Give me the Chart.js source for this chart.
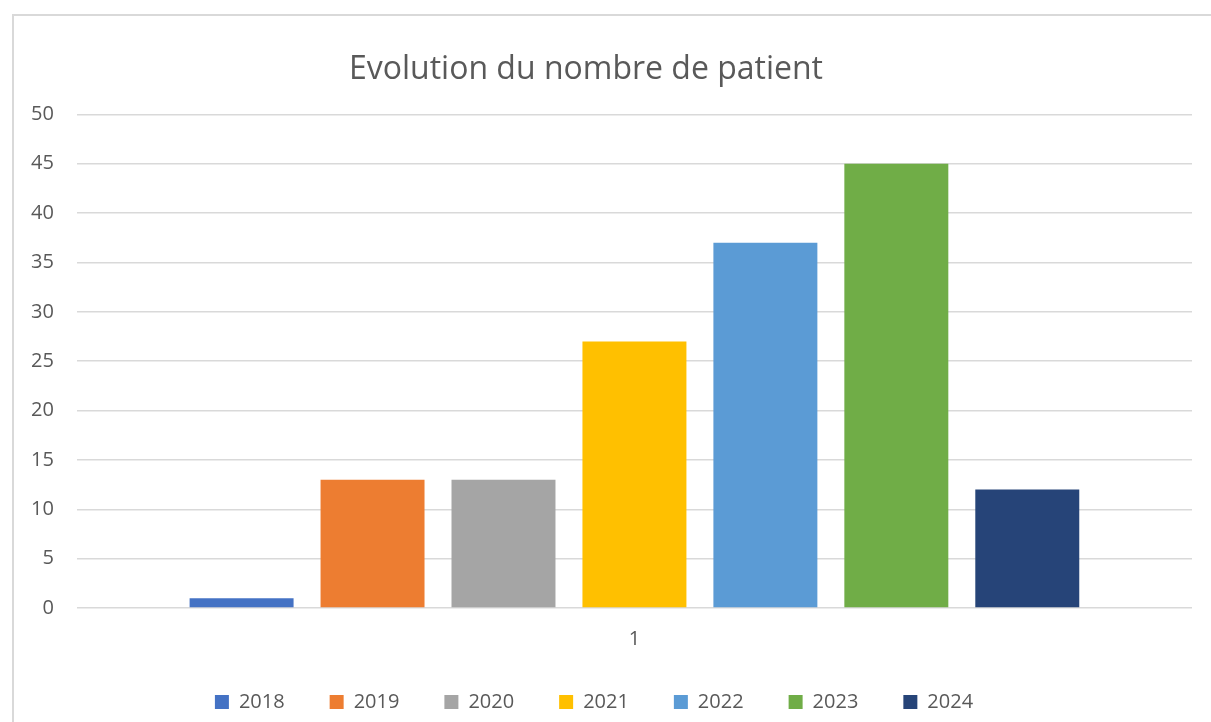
<!DOCTYPE html>
<html>
<head>
<meta charset="utf-8">
<script src="https://cdn.jsdelivr.net/npm/chart.js@4/dist/chart.umd.min.js"></script>
<style>
  html, body { margin: 0; padding: 0; background: #ffffff; overflow: hidden; }
  #frame { position: absolute; left: 12px; top: 14px; width: 1300px; height: 800px; border: 2px solid #d9d9d9; box-sizing: border-box; }
  #wrap { position: absolute; left: 0; top: 0; width: 1211px; height: 722px; }
</style>
</head>
<body>
<div id="frame"></div>
<div id="wrap"><canvas id="c" width="1211" height="722"></canvas></div>
<script>
const titleText = "Evolution du nombre de patient";
const categories = ["1"];
const seriesNames = ["2018", "2019", "2020", "2021", "2022", "2023", "2024"];
const seriesValues = [1, 13, 13, 27, 37, 45, 12];
const seriesColors = ["#4472C4", "#ED7D31", "#A5A5A5", "#FFC000", "#5B9BD5", "#70AD47", "#264478"];
const yTicks = { min: 0, max: 50, step: 5 };

const FONT = "'Open Sans', 'Liberation Sans', sans-serif";
const TEXT = "#595959";

const datasets = seriesNames.map((name, i) => ({
  label: name,
  data: [seriesValues[i]],
  backgroundColor: seriesColors[i],
  borderWidth: 0,
  categoryPercentage: 0.822,
  barPercentage: 0.794
}));

const shiftPlugin = {
  id: 'shiftBlocks',
  afterLayout(chart) {
    if (chart.titleBlock) { chart.titleBlock.left = 0; chart.titleBlock.right = 1172; }
    if (chart.legend) { chart.legend.left = 0; chart.legend.right = 1188; }
  }
};

new Chart(document.getElementById('c'), {
  type: 'bar',
  data: { labels: categories, datasets },
  plugins: [shiftPlugin],
  options: {
    responsive: false,
    animation: false,
    layout: { padding: { top: 0, left: 8, right: 19, bottom: 0 } },
    plugins: {
      title: {
        display: true,
        text: titleText,
        color: TEXT,
        font: { family: FONT, size: 32, weight: 'normal' },
        padding: { top: 51, bottom: 25 }
      },
      legend: {
        display: true,
        position: 'bottom',
        labels: {
          color: TEXT,
          font: { family: FONT, size: 20 },
          boxWidth: 14,
          boxHeight: 14,
          padding: 45
        }
      },
      tooltip: { enabled: false }
    },
    scales: {
      x: {
        grid: { display: false, drawTicks: false },
        border: { display: false },
        ticks: { color: TEXT, font: { family: FONT, size: 20 }, padding: 19 },
        afterFit(scale) { scale.height = 39; }
      },
      y: {
        min: yTicks.min,
        max: yTicks.max,
        grid: { color: '#d9d9d9', lineWidth: 1.5, drawTicks: false },
        border: { display: false },
        ticks: { stepSize: yTicks.step, color: TEXT, font: { family: FONT, size: 20 }, padding: 23 }
      }
    }
  }
});
</script>
</body>
</html>
